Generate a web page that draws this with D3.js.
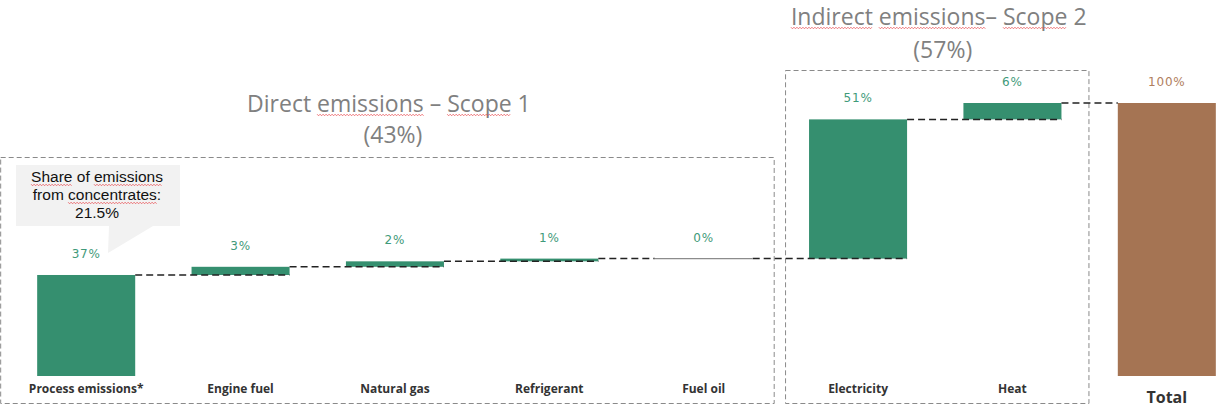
<!DOCTYPE html>
<html>
<head>
<meta charset="utf-8">
<script src="https://cdn.jsdelivr.net/npm/d3@7"></script>
<style>
  body { margin: 0; background: #fff; }
  svg { display: block; }
</style>
</head>
<body>
<div id="chart"></div>
<script>
// chart data
const categories = ["Process emissions*", "Engine fuel", "Natural gas", "Refrigerant", "Fuel oil", "Electricity", "Heat", "Total"];
const values = [37, 3, 2, 1, 0, 51, 6, 100];
const scopeTitles = ["Direct emissions \u2013 Scope 1", "Indirect emissions\u2013 Scope 2"];
const scopeShares = ["(43%)", "(57%)"];
const scopeMembers = [
    ["Process emissions*", "Engine fuel", "Natural gas", "Refrigerant", "Fuel oil"],
    ["Electricity", "Heat"]
];
const calloutLines = ["Share of emissions", "from concentrates:", "21.5%"];
// words the editor had flagged with a red squiggle
const flaggedWords = [["emissions", "Scope"], ["Indirect", "emissions", "Scope"]];
const flaggedCallout = [["Share", "emissions"], ["concentrates"], []];

function squiggle(svg, textNode, word) {
    let s = textNode.textContent;
    let i = s.indexOf(word);
    if (i < 0) return;
    let a = textNode.getExtentOfChar(i);
    let b = textNode.getExtentOfChar(i + word.length - 1);
    let x0 = a.x, x1 = b.x + b.width;
    let y = +textNode.getAttribute("y") + 3;
    let pts = [];
    let up = true;
    for (let x = x0; x <= x1; x += 1.5) {
        pts.push([x, up ? y - 0.8 : y + 0.8]);
        up = !up;
    }
    svg.append("path")
        .attr("d", d3.line()(pts))
        .attr("fill", "none")
        .attr("stroke", "#e8474c")
        .attr("stroke-width", 0.7);
}

function drawChart() {

    let plotWidth = 1216;
    let plotHeight = 408;

    let green = "#358f6f";
    let greenText = "#3f9a7a";
    let brown = "#a57453";
    let brownText = "#b07e5e";

    let svg = d3.select("#chart")
        .append("svg")
        .attr("width", plotWidth)
        .attr("height", plotHeight);

    // scales
    let xScale = d3.scaleBand()
        .domain(categories)
        .range([9, 1244])
        .paddingInner(0.365)
        .paddingOuter(0.1825);

    let yScale = d3.scaleLinear()
        .domain([0, 100])
        .range([376, 103]);

    let bw = xScale.bandwidth();

    // waterfall bases
    let bars = [];
    let running = 0;
    categories.forEach(function(c, i) {
        let isTotal = c === "Total";
        let base = isTotal ? 0 : running;
        let top = isTotal ? values[i] : running + values[i];
        bars.push({cat: c, value: values[i], base: base, top: top, total: isTotal});
        if (!isTotal) running = top;
    });

    // scope boxes
    let boxPad = [[37, 21], [24, 27]];
    let boxTop = [157, 70];
    let boxBottom = 403;
    let titleY = [[112, 143], [25, 58]];

    scopeMembers.forEach(function(members, k) {
        let x0 = xScale(members[0]) - boxPad[k][0];
        let x1 = xScale(members[members.length - 1]) + bw + boxPad[k][1];
        svg.append("rect")
            .attr("x", x0 + 0.5)
            .attr("y", boxTop[k] + 0.5)
            .attr("width", x1 - x0)
            .attr("height", boxBottom - boxTop[k])
            .attr("fill", "none")
            .attr("stroke", "#8a8a8a")
            .attr("stroke-width", 1)
            .attr("stroke-dasharray", "5,3");

        let cx = (x0 + x1) / 2;
        let title = svg.append("text")
            .attr("x", cx + 2)
            .attr("y", titleY[k][0])
            .attr("text-anchor", "middle")
            .attr("font-family", "Open Sans")
            .attr("font-size", "23px")
            .attr("fill", "#808080")
            .text(scopeTitles[k]);
        svg.append("text")
            .attr("x", cx + 6)
            .attr("y", titleY[k][1])
            .attr("text-anchor", "middle")
            .attr("font-family", "Open Sans")
            .attr("font-size", "23px")
            .attr("fill", "#808080")
            .text(scopeShares[k]);
        flaggedWords[k].forEach(w => squiggle(svg, title.node(), w));
    });

    // bars
    svg.selectAll("rect.bar")
        .data(bars.filter(d => d.value > 0))
        .enter()
        .append("rect")
        .attr("class", "bar")
        .attr("x", d => xScale(d.cat))
        .attr("y", d => yScale(d.top))
        .attr("width", bw)
        .attr("height", d => yScale(d.base) - yScale(d.top))
        .attr("fill", d => d.total ? brown : green);

    // connectors
    for (let i = 1; i < bars.length; i++) {
        let prev = bars[i - 1];
        let cur = bars[i];
        let level = prev.top;
        let xEnd = (cur.total || cur.value === 0) ? xScale(cur.cat) : xScale(cur.cat) + bw;
        svg.append("line")
            .attr("x1", xScale(prev.cat) + bw)
            .attr("x2", xEnd)
            .attr("y1", yScale(level))
            .attr("y2", yScale(level))
            .attr("stroke", "#222")
            .attr("stroke-width", 1.5)
            .attr("stroke-dasharray", "7,4");
    }

    // zero-height bars
    svg.selectAll("line.zero")
        .data(bars.filter(d => d.value === 0))
        .enter()
        .append("line")
        .attr("class", "zero")
        .attr("x1", d => xScale(d.cat))
        .attr("x2", d => xScale(d.cat) + bw)
        .attr("y1", d => yScale(d.top))
        .attr("y2", d => yScale(d.top))
        .attr("stroke", "#8c8c8c")
        .attr("stroke-width", 1.2);

    // value labels
    svg.selectAll("text.value")
        .data(bars)
        .enter()
        .append("text")
        .attr("class", "value")
        .attr("x", d => xScale(d.cat) + bw / 2)
        .attr("y", d => yScale(d.top) - 17)
        .attr("text-anchor", "middle")
        .attr("font-family", "DejaVu Sans")
        .attr("font-size", "12px")
        .attr("letter-spacing", "0.8px")
        .attr("fill", d => d.total ? brownText : greenText)
        .text(d => d.value + "%");

    // category labels
    svg.selectAll("text.cat")
        .data(bars)
        .enter()
        .append("text")
        .attr("class", "cat")
        .attr("x", d => xScale(d.cat) + bw / 2)
        .attr("y", d => d.total ? 403 : 393)
        .attr("text-anchor", "middle")
        .attr("font-family", "Open Sans")
        .attr("font-weight", "bold")
        .attr("font-size", d => d.total ? "16px" : "12px")
        .attr("fill", "#333")
        .text(d => d.cat);

    // callout bubble
    let callout = svg.append("g");
    callout.append("path")
        .attr("d", "M16,165 H180 V226 H153 L108,253 L109,226 H16 Z")
        .attr("fill", "#f2f2f2");
    callout.selectAll("text")
        .data(calloutLines)
        .enter()
        .append("text")
        .attr("x", 97)
        .attr("y", (d, i) => [182, 200, 218][i])
        .attr("text-anchor", "middle")
        .attr("font-family", "Liberation Sans")
        .attr("font-size", "15.5px")
        .attr("fill", "#111")
        .text(d => d)
        .each(function(d, i) {
            let node = this;
            flaggedCallout[i].forEach(w => squiggle(callout, node, w));
        });
}

drawChart();
</script>
</body>
</html>
